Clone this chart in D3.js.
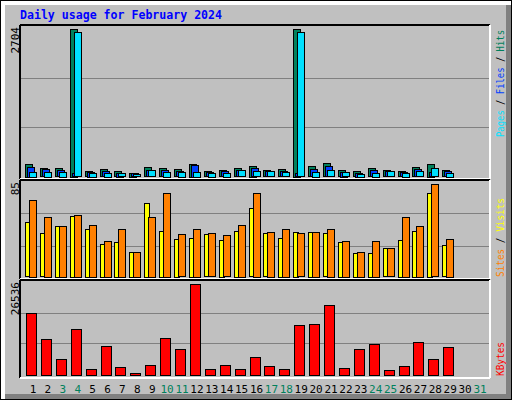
<!DOCTYPE html>
<html lang="en">
<head>
<meta charset="UTF-8">
<title>Daily usage for February 2024</title>
<style>body{margin:0;background:#fff}</style>
</head>
<body>
<div id="chart"></div>
<script src="https://d3js.org/d3.v7.min.js"></script>
<script>
var days = d3.range(1, 32);
var weekends = [3, 4, 10, 11, 17, 18, 24, 25, 31];
var hits   = [232,152,152,2704,97,134,97,68,170,152,134,232,97,115,152,196,115,134,2704,188,243,115,97,152,115,97,170,232,115];
var files  = [183,134,115,60,86,97,68,55,115,115,97,214,79,97,115,152,97,97,60,134,188,86,68,115,97,79,134,79,97];
var pages  = [86,86,86,2640,73,68,60,42,115,86,86,86,68,68,115,97,97,79,2640,86,115,79,49,73,97,68,97,152,68];
var visits = [50,40,47,56,44,30,32,23,68,42,35,36,39,34,42,63,40,36,41,41,40,32,22,22,26,34,42,77,29];
var sites  = [71,55,47,57,48,33,44,23,55,77,39,44,40,38,48,77,41,44,40,41,44,33,23,33,26,55,47,85,35];
var kbytes = [18105,10549,4737,13455,1831,8515,2412,668,2993,10839,7643,26536,1831,2993,1831,5318,2703,1831,14617,14908,20429,2121,7643,9096,1540,2703,9677,4737,8224];

var W = 512, H = 400, font = "'DejaVu Sans Mono', monospace";
var svg = d3.select('#chart').append('svg').attr('width', W).attr('height', H);

// frame
svg.append('rect').attr('width', W).attr('height', H).attr('fill', '#000');
svg.append('rect').attr('x', 1).attr('y', 1).attr('width', W - 2).attr('height', H - 2).attr('fill', '#fff');
svg.append('rect').attr('x', 5).attr('y', 5).attr('width', W - 6).attr('height', H - 6).attr('fill', '#808080');
svg.append('rect').attr('x', 5).attr('y', 5).attr('width', W - 11).attr('height', H - 11).attr('fill', '#c0c0c0');

svg.append('text').attr('x', 20).attr('y', 19).text('Daily usage for February 2024')
    .attr('font-family', font).attr('font-size', 12).attr('font-weight', 'bold').attr('fill', '#0000ff')
    .attr('textLength', 202).attr('lengthAdjust', 'spacingAndGlyphs');

var x = d3.scaleLinear().domain([1, 31]).range([33, 480]);

var panels = [
    {top: 25, bottom: 179, base: 176.5, maxPx: 147.5, max: 2704, grid: [1/3, 2/3]},
    {top: 180, bottom: 279, base: 276.7, maxPx: 92.3, max: 85, grid: [30.3/92.3, 63.3/92.3]},
    {top: 280, bottom: 378, base: 375.7, maxPx: 91.3, max: 26536, grid: [32.7/91.3, 62.3/91.3]}
];
panels.forEach(function(p) {
    p.y = d3.scaleLinear().domain([0, p.max]).range([p.base, p.base - p.maxPx]);
    svg.append('line').attr('x1', 20).attr('x2', 490).attr('y1', p.top).attr('y2', p.top).attr('stroke', '#000').attr('stroke-width', 2);
    svg.append('line').attr('x1', 20).attr('x2', 20).attr('y1', p.top).attr('y2', p.bottom).attr('stroke', '#000').attr('stroke-width', 2);
    svg.append('line').attr('x1', 20).attr('x2', 490).attr('y1', p.bottom).attr('y2', p.bottom).attr('stroke', '#fff').attr('stroke-width', 2);
    svg.append('line').attr('x1', 490).attr('x2', 490).attr('y1', p.top).attr('y2', p.bottom).attr('stroke', '#fff').attr('stroke-width', 2);
    p.grid.forEach(function(g) {
        var yy = Math.round(p.y(g * p.max)) + 0.5;
        svg.append('line').attr('x1', 21).attr('x2', 489).attr('y1', yy).attr('y2', yy).attr('stroke', '#808080');
    });
    svg.append('text').attr('transform', 'translate(19,' + (p.top + 2) + ') rotate(-90)')
        .attr('text-anchor', 'end').attr('font-family', font).attr('font-size', 11).text(p.max);
});

function bars(data, p, off, w, color) {
    svg.append('g').selectAll('rect').data(data).enter().append('rect')
        .attr('x', function(d, i) { return Math.round(x(i + 1)) + off + 0.5; })
        .attr('y', function(d) { return Math.round(p.y(d)) + 0.5; })
        .attr('width', w)
        .attr('height', function(d) { return Math.round(p.base - p.y(d)); })
        .attr('fill', color).attr('stroke', '#000');
}
bars(hits, panels[0], -8, 7, '#00805c');
bars(files, panels[0], -6, 7, '#0040ff');
bars(pages, panels[0], -4, 7, '#00e0ff');
bars(visits, panels[1], -8, 5, '#ffff00');
bars(sites, panels[1], -4, 7, '#ff8000');
bars(kbytes, panels[2], -7, 10, '#ff0000');

svg.append('g').selectAll('text').data(days).enter().append('text')
    .attr('x', function(d) { return x(d); }).attr('y', 393)
    .attr('text-anchor', 'middle').attr('font-family', font).attr('font-size', 11)
    .attr('fill', function(d) { return weekends.indexOf(d) >= 0 ? '#00805c' : '#000'; })
    .text(function(d) { return d; });

function sideLabel(y0, len, parts) {
    var t = svg.append('text').attr('transform', 'translate(504,' + y0 + ') rotate(-90)')
        .attr('font-family', font).attr('font-size', 10)
        .attr('textLength', len).attr('lengthAdjust', 'spacingAndGlyphs');
    parts.forEach(function(pt) { t.append('tspan').attr('fill', pt[1]).text(pt[0]); });
}
sideLabel(137, 107, [['Pages', '#00e0ff'], [' / ', '#000'], ['Files', '#0040ff'], [' / ', '#000'], ['Hits', '#00805c']]);
sideLabel(277, 79, [['Sites', '#ff8000'], [' / ', '#000'], ['Visits', '#ffff00']]);
sideLabel(376, 34, [['KBytes', '#ff0000']]);
</script>
</body>
</html>
